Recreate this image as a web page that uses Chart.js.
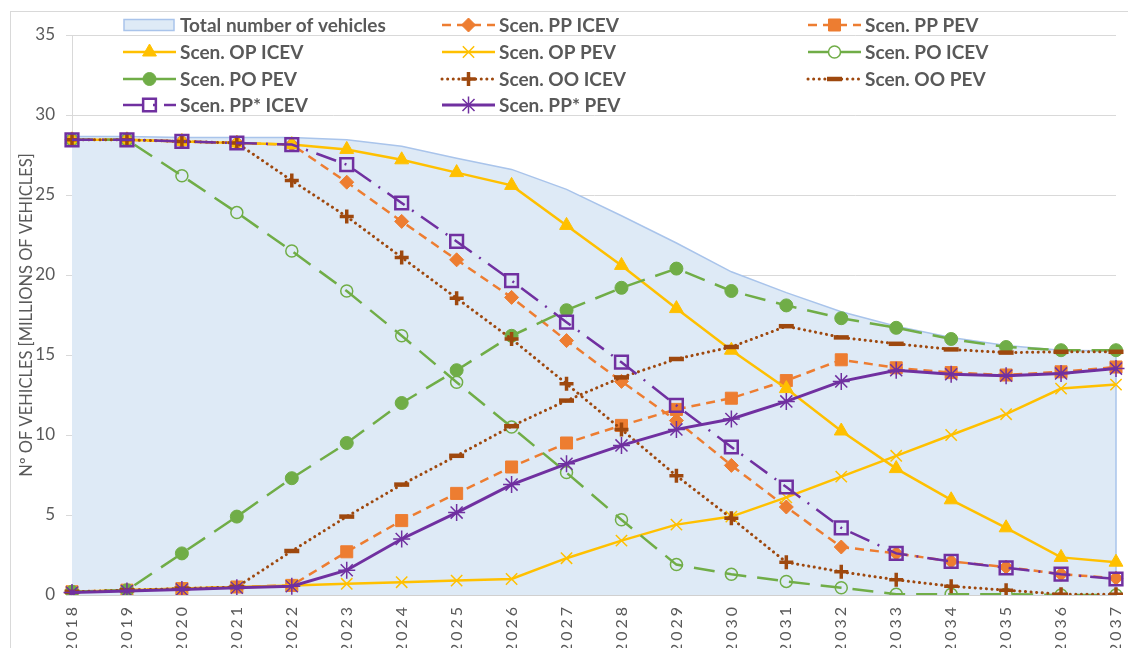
<!DOCTYPE html>
<html>
<head>
<meta charset="utf-8">
<script src="https://cdn.jsdelivr.net/npm/chart.js@4.4.1/dist/chart.umd.min.js"></script>
<style>
  html, body { margin: 0; padding: 0; background: #fff; overflow: hidden; }
  #wrap { width: 1128px; height: 648px; position: relative; overflow: hidden; }
</style>
</head>
<body>
<div id="wrap"><canvas id="chart" width="1128" height="648"></canvas></div>
<script>
// Data (millions of vehicles)
const years = ["2018", "2019", "2020", "2021", "2022", "2023", "2024", "2025", "2026", "2027",
               "2028", "2029", "2030", "2031", "2032", "2033", "2034", "2035", "2036", "2037"];
const yTicks = [0, 5, 10, 15, 20, 25, 30, 35];

const totalVehicles = [28.65, 28.65, 28.6, 28.6, 28.6, 28.45, 28.05, 27.3, 26.6, 25.35, 23.7, 22.0, 20.2, 18.9, 17.7, 16.8, 16.1, 15.6, 15.3, 15.25];
const ppIcev  = [28.45, 28.45, 28.35, 28.25, 28.15, 25.8, 23.35, 20.95, 18.6, 15.9, 13.35, 10.9, 8.1, 5.5, 3.0, 2.6, 2.1, 1.75, 1.3, 1.05];
const ppPev   = [0.2, 0.3, 0.4, 0.5, 0.6, 2.7, 4.65, 6.35, 8.0, 9.5, 10.6, 11.6, 12.3, 13.4, 14.7, 14.2, 13.9, 13.75, 13.95, 14.25];
const opIcev  = [28.45, 28.45, 28.35, 28.25, 28.15, 27.85, 27.2, 26.4, 25.6, 23.1, 20.6, 17.9, 15.3, 12.9, 10.25, 7.9, 5.95, 4.2, 2.35, 2.05];
const opPev   = [0.2, 0.3, 0.4, 0.5, 0.6, 0.7, 0.8, 0.9, 1.0, 2.3, 3.4, 4.4, 4.9, 6.1, 7.4, 8.7, 10.0, 11.3, 12.9, 13.15];
const poIcev  = [28.45, 28.45, 26.2, 23.9, 21.5, 19.0, 16.2, 13.3, 10.5, 7.65, 4.7, 1.9, 1.3, 0.85, 0.45, 0.05, 0.05, 0.05, 0, 0];
const poPev   = [0.2, 0.3, 2.6, 4.9, 7.3, 9.5, 12.0, 14.05, 16.2, 17.8, 19.2, 20.4, 19.0, 18.1, 17.3, 16.7, 16.0, 15.5, 15.3, 15.3];
const ooIcev  = [28.45, 28.45, 28.35, 28.25, 25.9, 23.65, 21.1, 18.55, 16.0, 13.2, 10.35, 7.45, 4.8, 2.05, 1.45, 0.95, 0.55, 0.3, 0.05, 0.05];
const ooPev   = [0.2, 0.3, 0.4, 0.5, 2.75, 4.9, 6.9, 8.7, 10.55, 12.15, 13.6, 14.75, 15.5, 16.8, 16.1, 15.7, 15.35, 15.15, 15.2, 15.2];
const ppsIcev = [28.45, 28.45, 28.35, 28.25, 28.15, 26.9, 24.5, 22.1, 19.65, 17.05, 14.55, 11.85, 9.25, 6.75, 4.2, 2.6, 2.1, 1.7, 1.3, 1.0];
const ppsPev  = [0.15, 0.25, 0.35, 0.45, 0.55, 1.55, 3.5, 5.15, 6.9, 8.2, 9.35, 10.35, 11.0, 12.1, 13.35, 14.05, 13.8, 13.7, 13.85, 14.15];

const ORANGE = "#ED7D31", GOLD = "#FFC000", GREEN = "#70AD47", BROWN = "#9E480E", PURPLE = "#7030A0";
const TEXT = "#595959", GRID = "#D9D9D9";

function line(label, data, color, dash, style, radius, opts) {
    return Object.assign({
        label, data,
        borderColor: color,
        borderWidth: 2.5,
        borderDash: dash,
        pointStyle: style,
        pointRadius: radius,
        pointBackgroundColor: color,
        pointBorderColor: color,
        pointBorderWidth: 1,
        fill: false,
        tension: 0
    }, opts || {});
}

const datasets = [
    {
        label: "Total number of vehicles",
        data: totalVehicles,
        fill: "origin",
        backgroundColor: "#DEEAF6",
        borderColor: "#A9C4EB",
        borderWidth: 1.5,
        pointRadius: 0,
        tension: 0
    },
    line("Scen. PP ICEV", ppIcev, ORANGE, [9, 6], "rectRot", 7),
    line("Scen. PP PEV", ppPev, ORANGE, [9, 6], "rect", 8.5),
    line("Scen. OP ICEV", opIcev, GOLD, [], "triangle", 8),
    line("Scen. OP PEV", opPev, GOLD, [], "crossRot", 8, { pointBorderWidth: 1.5 }),
    line("Scen. PO ICEV", poIcev, GREEN, [21, 11], "circle", 6, { pointBackgroundColor: "rgba(0,0,0,0)", pointBorderWidth: 1.5 }),
    line("Scen. PO PEV", poPev, GREEN, [21, 11], "circle", 6.5),
    line("Scen. OO ICEV", ooIcev, BROWN, [0.1, 5.5], "cross", 7, { borderWidth: 3, borderCapStyle: "round", pointBorderWidth: 3.5 }),
    line("Scen. OO PEV", ooPev, BROWN, [0.1, 5.5], "line", 7.5, { borderWidth: 3, borderCapStyle: "round", pointBorderWidth: 4.5 }),
    line("Scen. PP* ICEV", ppsIcev, PURPLE, [21, 9, 2, 9], "rect", 9, { pointBackgroundColor: "rgba(0,0,0,0)", pointBorderWidth: 2.5 }),
    line("Scen. PP* PEV", ppsPev, PURPLE, [], "star", 8.5, { borderWidth: 3, pointBorderWidth: 1.5 })
];
// later series are painted over earlier ones, the area stays at the back
datasets.forEach((d, i) => { d.order = datasets.length - 1 - i; });

// legend drawn inside the plot, 3 columns x 4 rows
const legendCols = [123, 442, 808];
const legendRows = [25, 52, 79, 105];

const legendPlugin = {
    id: "insideLegend",
    afterDraw(chart) {
        const ctx = chart.ctx;
        chart.data.datasets.forEach((ds, i) => {
            const x = legendCols[i % 3];
            const y = legendRows[Math.floor(i / 3)];
            ctx.save();
            if (i === 0) {
                ctx.fillStyle = ds.backgroundColor;
                ctx.strokeStyle = ds.borderColor;
                ctx.lineWidth = 1.5;
                ctx.fillRect(x + 1, y - 5.5, 50, 11);
                ctx.strokeRect(x + 1, y - 5.5, 50, 11);
            } else {
                ctx.strokeStyle = ds.borderColor;
                ctx.lineWidth = ds.borderWidth;
                ctx.lineCap = ds.borderCapStyle || "butt";
                ctx.setLineDash(ds.borderDash);
                ctx.beginPath();
                ctx.moveTo(x, y);
                ctx.lineTo(x + 53, y);
                ctx.stroke();
                ctx.setLineDash([]);
                ctx.fillStyle = ds.pointBackgroundColor;
                ctx.strokeStyle = ds.pointBorderColor;
                ctx.lineWidth = ds.pointBorderWidth;
                ctx.lineCap = "butt";
                Chart.helpers.drawPoint(ctx, {
                    pointStyle: ds.pointStyle,
                    radius: ds.pointRadius,
                    borderWidth: ds.pointBorderWidth,
                    rotation: 0
                }, x + 26.5, y);
            }
            ctx.fillStyle = TEXT;
            ctx.font = "bold 19px Lato";
            ctx.textBaseline = "middle";
            ctx.fillText(ds.label, x + 57, y + 1);
            ctx.restore();
        });
    }
};

const framePlugin = {
    id: "frame",
    beforeDraw(chart) {
        const ctx = chart.ctx;
        ctx.save();
        ctx.strokeStyle = GRID;
        ctx.lineWidth = 1;
        ctx.strokeRect(10.5, 11.5, 1300, 800);
        ctx.restore();
        // letter spaced year labels
        const xs = chart.scales.x;
        if (xs && !xs._spaced) {
            const orig = xs.drawLabels.bind(xs);
            xs.drawLabels = function (area) {
                this.ctx.save();
                this.ctx.letterSpacing = "3px";
                orig(area);
                this.ctx.restore();
            };
            xs._spaced = true;
        }
    },
    afterDatasetDraw(chart, args) {
        if (args.index !== 0) return;
        // right edge of the area
        const pts = args.meta.data;
        const last = pts[pts.length - 1];
        const ctx = chart.ctx;
        ctx.save();
        ctx.strokeStyle = chart.data.datasets[0].borderColor;
        ctx.lineWidth = 1.5;
        ctx.beginPath();
        ctx.moveTo(last.x, last.y);
        ctx.lineTo(last.x, chart.scales.y.getPixelForValue(0));
        ctx.stroke();
        ctx.restore();
    }
};

new Chart(document.getElementById("chart"), {
    type: "line",
    data: { labels: years, datasets },
    plugins: [framePlugin, legendPlugin],
    options: {
        responsive: false,
        animation: false,
        events: [],
        layout: { padding: { left: 10, right: 9, top: 35, bottom: 0 } },
        plugins: { legend: { display: false }, tooltip: { enabled: false } },
        scales: {
            x: {
                offset: false,
                grid: { display: false, drawTicks: false },
                border: { display: true, color: "#D0D0D0", width: 2 },
                ticks: {
                    color: TEXT,
                    font: { family: "Lato", size: 16 },
                    maxRotation: 90,
                    minRotation: 90,
                    autoSkip: false,
                    padding: 9
                },
                afterFit(scale) {
                    scale.height = 53;
                    scale.paddingLeft = 0;
                    scale.paddingRight = 0;
                }
            },
            y: {
                min: 0,
                max: 35,
                afterBuildTicks(scale) { scale.ticks = yTicks.map(v => ({ value: v })); },
                grid: { color: GRID, lineWidth: 1, tickLength: 6, drawTicks: true },
                border: { display: true, color: GRID, width: 1 },
                ticks: {
                    color: TEXT,
                    font: { family: "Lato", size: 17 },
                    padding: 11
                },
                title: {
                    display: true,
                    text: "Nº OF VEHICLES [MILLIONS OF VEHICLES]",
                    color: TEXT,
                    font: { family: "Lato", size: 16.5 },
                    padding: { top: 7, bottom: 0 }
                },
                afterFit(scale) { scale.width = 62; }
            }
        }
    }
});
</script>
</body>
</html>
